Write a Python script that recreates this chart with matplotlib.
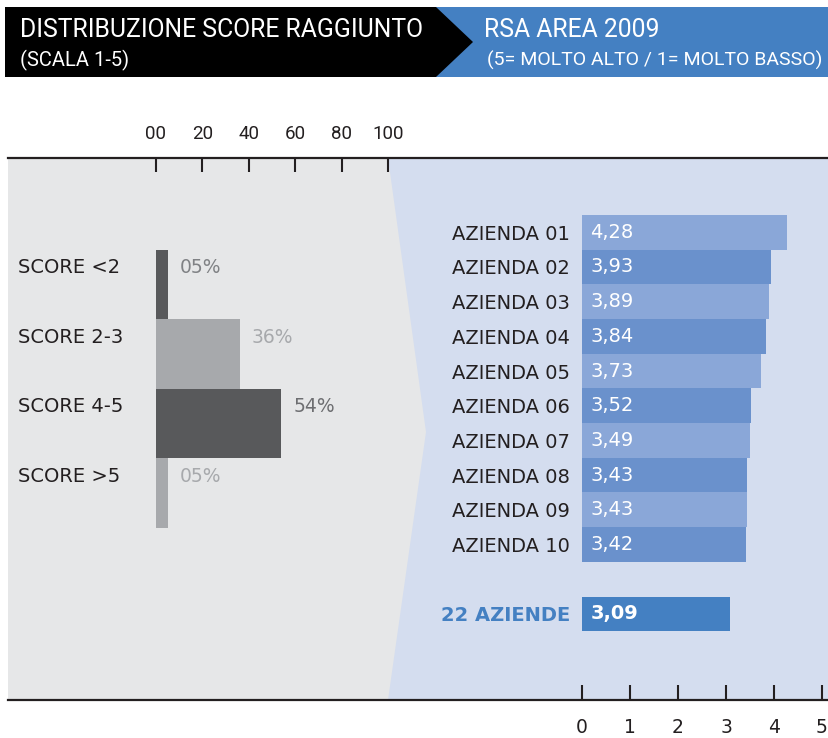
import matplotlib
matplotlib.use("Agg")
import matplotlib.pyplot as plt
from matplotlib.patches import Polygon

# Data
score_labels = ["SCORE <2", "SCORE 2-3", "SCORE 4-5", "SCORE >5"]
score_pct = [5, 36, 54, 5]
pct_ticks = [0, 20, 40, 60, 80, 100]
pct_tick_labels = ["00", "20", "40", "60", "80", "100"]

aziende = ["AZIENDA 01", "AZIENDA 02", "AZIENDA 03", "AZIENDA 04", "AZIENDA 05",
           "AZIENDA 06", "AZIENDA 07", "AZIENDA 08", "AZIENDA 09", "AZIENDA 10"]
aziende_score = [4.28, 3.93, 3.89, 3.84, 3.73, 3.52, 3.49, 3.43, 3.43, 3.42]
total_label = "22 AZIENDE"
total_score = 3.09
score_ticks = [0, 1, 2, 3, 4, 5]

# Colours
TEXT = "#231f20"
HEAD_BLUE = "#4480c2"
GRAY_PANEL = "#e6e7e8"
BLUE_PANEL = "#d4ddef"
bar_gray = ["#58595b", "#a7a9ac", "#58595b", "#a7a9ac"]
pct_color = ["#808285", "#a7a9ac", "#6d6e71", "#a7a9ac"]
bar_blue = ["#8aa7d8", "#6a91cc"]

narrow = ["Roboto", "DejaVu Sans"]
body = ["DejaVu Sans"]

W, H = 829, 738
fig = plt.figure(figsize=(W / 100, H / 100), dpi=100)


# helper: axes placed by pixel box (top-left origin)
def px_axes(x0, y0, x1, y1):
    return fig.add_axes([x0 / W, 1 - y1 / H, (x1 - x0) / W, (y1 - y0) / H])


bg = fig.add_axes([0, 0, 1, 1])
bg.set_xlim(0, W)
bg.set_ylim(H, 0)
bg.axis("off")

# Header band
bg.add_patch(Polygon([(436, 7), (W, 7), (W, 77), (436, 77)], closed=True, color=HEAD_BLUE, lw=0))
bg.add_patch(Polygon([(5, 7), (436, 7), (473, 42), (436, 77), (5, 77)], closed=True, color="black", lw=0))
bg.text(20, 30, "DISTRIBUZIONE SCORE RAGGIUNTO", color="white", fontsize=17.8, va="center", family=narrow)
bg.text(20, 60, "(SCALA 1-5)", color="white", fontsize=14.5, va="center", family=narrow)
bg.text(484, 30, "RSA AREA 2009", color="white", fontsize=17.8, va="center", family=narrow)
bg.text(487, 60, "(5= MOLTO ALTO / 1= MOLTO BASSO)", color="white", fontsize=14, va="center", family=narrow)

# Panels
bg.add_patch(Polygon([(388, 158), (W, 158), (W, 700), (388, 700)], closed=True, color=BLUE_PANEL, lw=0))
bg.add_patch(Polygon([(8, 158), (388, 158), (426, 432), (388, 700), (8, 700)], closed=True, color=GRAY_PANEL, lw=0))
bg.plot([8, W], [158, 158], color=TEXT, lw=1.6)
bg.plot([8, W], [700, 700], color=TEXT, lw=1.6)

# Left chart: score distribution
axL = px_axes(156, 158, 388, 700)
axL.patch.set_visible(False)
axL.set_xlim(0, 100)
axL.set_ylim(5.98, -1.82)
ypos = list(range(len(score_pct)))
axL.barh(ypos, score_pct, height=1.0, color=bar_gray)
for i, v in enumerate(score_pct):
    axL.annotate(f"{v:02d}%", xy=(v, i), xytext=(9, 12), textcoords="offset points",
                 va="center", ha="left", color=pct_color[i], fontsize=13.5, family=body)
    axL.annotate(score_labels[i], xy=(0, i), xycoords=("axes fraction", "data"),
                 xytext=(-99, 12), textcoords="offset points",
                 va="center", ha="left", color=TEXT, fontsize=14, family=body)
for s in axL.spines.values():
    s.set_visible(False)
axL.set_yticks([])
axL.xaxis.tick_top()
axL.set_xticks(pct_ticks)
axL.set_xticklabels(pct_tick_labels, family=narrow, fontsize=13.5, color=TEXT)
axL.tick_params(axis="x", direction="in", length=10, width=1.5, color=TEXT, pad=11)

# Right chart: scores per azienda
axR = px_axes(582, 158, 822, 700)
axR.patch.set_visible(False)
axR.set_xlim(0, 5)
axR.set_ylim(13.48, -2.14)
rpos = list(range(len(aziende)))
axR.barh(rpos, aziende_score, height=1.0,
         color=[bar_blue[i % 2] for i in rpos])
total_pos = len(aziende) + 1
axR.barh([total_pos], [total_score], height=1.0, color=HEAD_BLUE)
for i, v in enumerate(aziende_score):
    axR.annotate(f"{v:.2f}".replace(".", ","), xy=(0, i), xytext=(6, 0), textcoords="offset points",
                 va="center", ha="left", color="white", fontsize=14, family=body)
axR.annotate(f"{total_score:.2f}".replace(".", ","), xy=(0, total_pos), xytext=(6, 0),
             textcoords="offset points", va="center", ha="left", color="white",
             fontsize=14, fontweight="bold", family=body)
for s in axR.spines.values():
    s.set_visible(False)
axR.set_yticks(rpos + [total_pos])
axR.set_yticklabels(aziende + [total_label], family=body, fontsize=14, color=TEXT)
axR.get_yticklabels()[-1].set_color(HEAD_BLUE)
axR.get_yticklabels()[-1].set_fontweight("bold")
axR.tick_params(axis="y", length=0, pad=8.5)
axR.set_xticks(score_ticks)
axR.set_xticklabels([str(t) for t in score_ticks], family=body, fontsize=13.5, color=TEXT)
axR.tick_params(axis="x", direction="in", length=11, width=1.5, color=TEXT, pad=13)

fig.savefig("out.png", dpi=100)
